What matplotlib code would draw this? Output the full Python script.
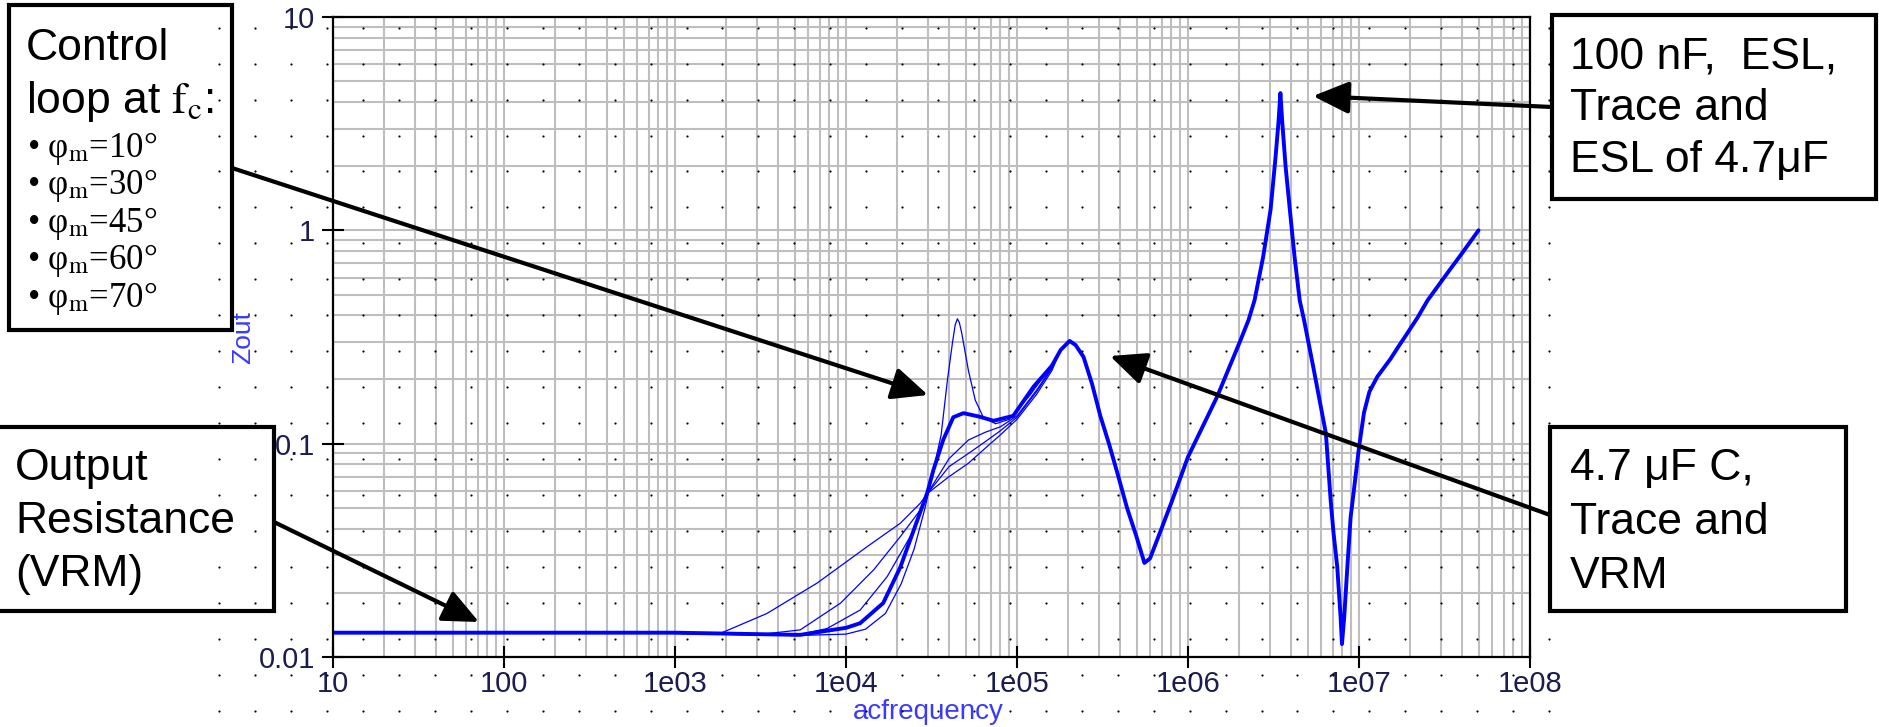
import matplotlib
matplotlib.use('Agg')
import matplotlib.pyplot as plt
from matplotlib.patches import Rectangle
from matplotlib.ticker import LogLocator, FixedLocator, NullFormatter
import numpy as np

# ---- values (frequency in Hz, Zout in ohm) ----
# part above ~200 kHz is the same for every phase margin
freq_common = [1.8e5, 2.03e5, 2.2e5, 2.45e5, 2.75e5, 3.07e5, 3.45e5, 3.86e5, 4.4e5, 5e5,
               5.56e5, 6e5, 7e5, 8e5, 1e6, 1.48e6, 2.03e6, 2.26e6, 2.45e6, 2.75e6,
               3.04e6, 3.25e6, 3.38e6, 3.47e6, 3.56e6, 3.72e6, 3.94e6, 4.2e6, 4.5e6,
               4.77e6, 5.4e6, 6.4e6, 6.83e6, 7.1e6, 7.46e6, 7.8e6, 7.95e6, 8.2e6, 8.55e6,
               8.93e6, 1e7, 1.07e7, 1.15e7, 1.28e7, 1.53e7, 1.7e7, 1.92e7, 2.2e7, 2.52e7,
               3e7, 3.5e7, 4e7, 5e7]
z_common = [0.275, 0.303, 0.29, 0.255, 0.19, 0.135, 0.10, 0.073, 0.05, 0.0366,
            0.0276, 0.029, 0.040, 0.053, 0.0867, 0.166, 0.306, 0.38, 0.47, 0.75,
            1.25, 2.2, 3.2, 4.4, 3.2, 2.0, 1.25, 0.75, 0.47,
            0.38, 0.229, 0.112, 0.054, 0.038, 0.0265, 0.0155, 0.0115, 0.0155, 0.0265,
            0.045, 0.096, 0.140, 0.175, 0.206, 0.250, 0.285, 0.33, 0.39, 0.47,
            0.57, 0.675, 0.78, 1.0]

freq_pm10 = [10, 1e3, 3e3, 5e3, 1e4, 1.3e4, 1.7e4, 2.1e4, 2.5e4, 2.9e4, 3.3e4, 3.6e4,
             3.92e4, 4.2e4, 4.35e4, 4.48e4, 4.6e4, 4.75e4, 5.2e4, 5.7e4, 6.35e4, 7.5e4,
             9e4, 1.2e5, 1.6e5]
z_pm10 = [0.0130, 0.0130, 0.0128, 0.0126, 0.0128, 0.0135, 0.016, 0.022, 0.032, 0.050,
          0.08, 0.11, 0.199, 0.30, 0.36, 0.385, 0.37, 0.33, 0.22, 0.16, 0.133, 0.124,
          0.13, 0.17, 0.235]

freq_pm30 = [10, 100, 1e3, 3e3, 5.4e3, 1e4, 1.21e4, 1.65e4, 2.08e4, 2.48e4, 2.99e4,
             3.24e4, 3.7e4, 4.24e4, 4.86e4, 6e4, 7.3e4, 9.5e4, 1.25e5, 1.6e5]
z_pm30 = [0.0130, 0.0130, 0.0130, 0.0128, 0.0127, 0.0137, 0.0144, 0.0179, 0.0264, 0.039,
          0.059, 0.075, 0.104, 0.133, 0.139, 0.134, 0.128, 0.135, 0.185, 0.232]

freq_pm45 = [10, 1e3, 3e3, 5e3, 7.75e3, 1.21e4, 1.74e4, 2.5e4, 3e4, 4e4, 5.2e4, 6.5e4,
             8e4, 1e5, 1.3e5, 1.6e5]
z_pm45 = [0.0130, 0.0129, 0.0127, 0.0126, 0.0136, 0.0166, 0.0238, 0.0394, 0.0585, 0.085,
          0.104, 0.113, 0.12, 0.135, 0.178, 0.228]

freq_pm60 = [10, 1e3, 3e3, 5.4e3, 9.3e3, 1.45e4, 2.08e4, 2.72e4, 3e4, 4e4, 5.2e4, 6.5e4,
             8e4, 1e5, 1.3e5, 1.6e5]
z_pm60 = [0.0130, 0.0129, 0.0127, 0.0134, 0.0179, 0.0256, 0.0367, 0.0489, 0.0585, 0.078,
          0.09, 0.102, 0.115, 0.133, 0.175, 0.225]

freq_pm70 = [10, 1e3, 1.84e3, 3.45e3, 6.77e3, 1.33e4, 2.08e4, 2.72e4, 3e4, 4e4, 5.2e4,
             6.5e4, 8e4, 1e5, 1.3e5, 1.6e5]
z_pm70 = [0.0130, 0.0129, 0.0129, 0.016, 0.0222, 0.0329, 0.0424, 0.0526, 0.0585, 0.070,
          0.081, 0.095, 0.11, 0.13, 0.17, 0.22]

xtick_vals = [10, 1e2, 1e3, 1e4, 1e5, 1e6, 1e7, 1e8]
xtick_labels = ['10', '100', '1e03', '1e04', '1e05', '1e06', '1e07', '1e08']
ytick_vals = [0.01, 0.1, 1, 10]
ytick_labels = ['0.01', '0.1', '1', '10']
pm_values = ['10', '30', '45', '60', '70']

W, H = 1879, 727
BLUE = '#0000ff'
TICKC = '#1c1c50'
narrow = ['Liberation Sans Narrow', 'Liberation Sans', 'DejaVu Sans']
sans = ['Liberation Sans', 'DejaVu Sans']
serif = ['Liberation Serif', 'DejaVu Serif']

plt.rcParams['mathtext.fontset'] = 'stix'
fig = plt.figure(figsize=(W / 100, H / 100), dpi=100)
ax = fig.add_axes([333 / W, 1 - 657 / H, (1530 - 333) / W, 640 / H])
ax.set_xscale('log')
ax.set_yscale('log')

curves = [(freq_pm70, z_pm70, 0.9), (freq_pm60, z_pm60, 0.9), (freq_pm45, z_pm45, 0.9),
          (freq_pm10, z_pm10, 0.9), (freq_pm30, z_pm30, 2.8)]
for f, z, lw in curves:
    ax.plot(f + freq_common, z + z_common, color=BLUE, lw=lw,
            solid_joinstyle='round', solid_capstyle='round')

ax.set_xlim(10, 1e8)
ax.set_ylim(0.01, 10)
ax.xaxis.set_major_locator(FixedLocator(xtick_vals))
ax.yaxis.set_major_locator(FixedLocator(ytick_vals))
ax.set_xticklabels(xtick_labels)
ax.set_yticklabels(ytick_labels)
ax.xaxis.set_minor_locator(LogLocator(base=10, subs=np.arange(2, 10), numticks=100))
ax.yaxis.set_minor_locator(LogLocator(base=10, subs=np.arange(2, 10), numticks=100))
ax.xaxis.set_minor_formatter(NullFormatter())
ax.yaxis.set_minor_formatter(NullFormatter())
ax.grid(True, which='both', color='#bebebe', lw=1.5)
ax.set_axisbelow(True)
ax.tick_params(which='major', direction='inout', length=16, width=1.5, color='k',
               labelsize=21, labelcolor=TICKC)
ax.tick_params(axis='y', which='major', pad=5)
ax.tick_params(axis='x', which='major', pad=1)
ax.tick_params(which='minor', length=0)
for lab in ax.get_xticklabels() + ax.get_yticklabels():
    lab.set_family(narrow)
for sp in ax.spines.values():
    sp.set_linewidth(1.6)

# overlay in pixel coordinates (origin top-left) for the slide annotations
ov = fig.add_axes([0, 0, 1, 1], zorder=5)
ov.set_xlim(0, W)
ov.set_ylim(H, 0)
ov.axis('off')
ov.patch.set_alpha(0)

ov.text(243, 338, 'Zout', rotation=90, color='#3a3aff', fontsize=19, family=narrow,
        ha='center', va='center')
ov.text(928, 712, 'acfrequency', color='#3a3aff', fontsize=20, family=narrow,
        ha='center', va='center')

# slide background dot grid
dx = 219.3 + 35.94 * np.arange(38)
dy = 27.7 + 35.94 * np.arange(20)
gx, gy = np.meshgrid(dx, dy)
ov.scatter(gx.ravel(), gy.ravel(), s=2.5, c='k', linewidths=0, zorder=6)

boxes = [(9, 5, 232, 330), (1552, 15, 1876, 199), (-3, 427, 274, 611), (1550, 427, 1846, 611)]
for x0, y0, x1, y1 in boxes:
    ov.add_patch(Rectangle((x0, y0), x1 - x0, y1 - y0, fill=False, ec='k', lw=3, zorder=4))

big = dict(fontsize=32, family=sans, color='k', va='baseline', ha='left')
ov.text(26, 60, 'Control', **big)
ov.text(26, 113, r'loop at $\mathrm{f_c}$:', **big)
for i, pm in enumerate(pm_values):
    ov.text(27, 157 + 37.4 * i, '\u2022 \u03c6$_{\\mathrm{m}}$=' + pm + '\u00b0',
            fontsize=25, family=serif, va='baseline')

for i, line in enumerate(['Output', 'Resistance', '(VRM)']):
    ov.text(15, 480 + 53 * i, line, **big)
for i, line in enumerate(['100 nF,  ESL,', 'Trace and', 'ESL of 4.7\u03bcF']):
    ov.text(1570, 68 + 52 * i, line, **big)
for i, line in enumerate(['4.7 \u03bcF C,', 'Trace and', 'VRM']):
    ov.text(1570, 480 + 54 * i, line, **big)

arrows = [((232, 168), (928, 395)), ((274, 522), (479, 622)),
          ((1552, 107), (1313, 96)), ((1550, 515), (1110, 356))]
for start, tip in arrows:
    ov.annotate('', xy=tip, xytext=start,
                arrowprops=dict(arrowstyle='-|>,head_length=1.0,head_width=0.45',
                                lw=3, color='k', shrinkA=0, shrinkB=0,
                                mutation_scale=22))

fig.savefig('out.png', dpi=100)
